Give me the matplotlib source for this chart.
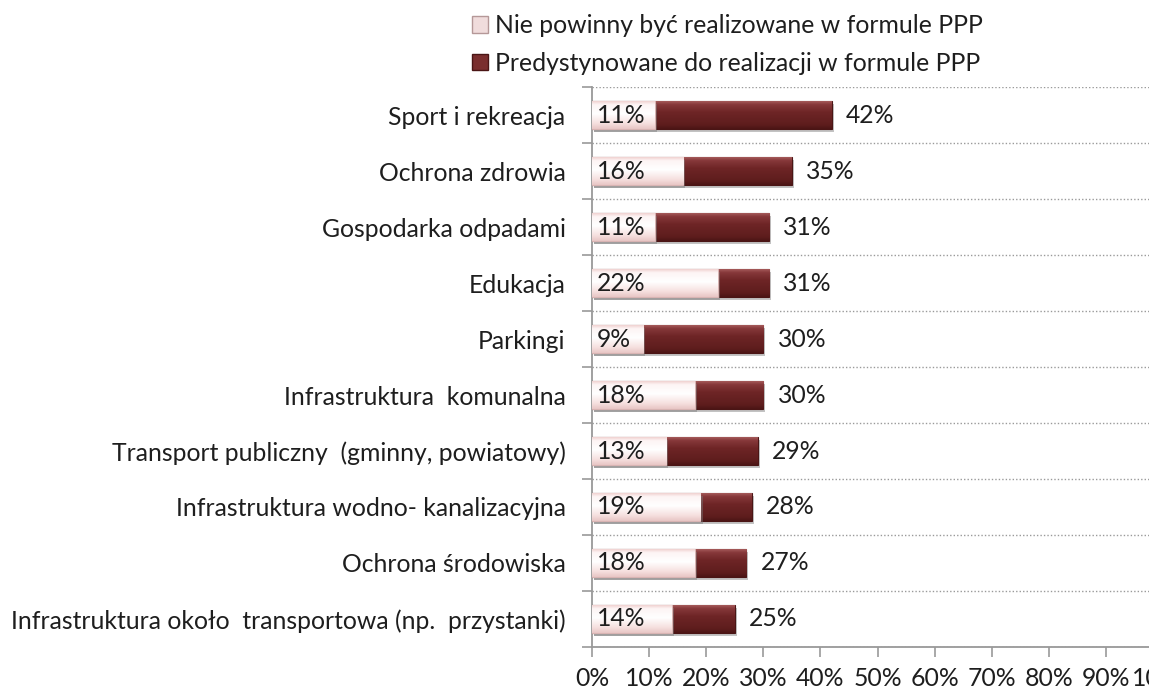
import matplotlib
matplotlib.use("Agg")
import numpy as np
import matplotlib.pyplot as plt
import matplotlib.patheffects as pe
from matplotlib.ticker import FixedLocator, PercentFormatter
from matplotlib.patches import Rectangle
from matplotlib.colors import to_rgb

plt.rcParams['font.family'] = ['Lato', 'DejaVu Sans']

categories = ["Sport i rekreacja", "Ochrona zdrowia", "Gospodarka odpadami", "Edukacja",
              "Parkingi", "Infrastruktura  komunalna",
              "Transport publiczny  (gminny, powiatowy)",
              "Infrastruktura wodno- kanalizacyjna", "Ochrona środowiska",
              "Infrastruktura około  transportowa (np.  przystanki)"]
nie_powinny = [11, 16, 11, 22, 9, 18, 13, 19, 18, 14]
predystynowane = [42, 35, 31, 31, 30, 30, 29, 28, 27, 25]
legend_labels = ["Nie powinny być realizowane w formule PPP",
                 "Predystynowane do realizacji w formule PPP"]
xticks = [0, 10, 20, 30, 40, 50, 60, 70, 80, 90, 100]

DARK = "#6B2424"
LIGHT = "#F7E4E3"
TXT = "#1e1e1e"
FS = 17.8

W, H = 1149, 691
fig = plt.figure(figsize=(W / 100, H / 100), dpi=100)
ax = fig.add_axes([592 / W, 1 - 647 / H, 571 / W, (647 - 87) / H])

y = list(range(len(categories)))
shadow = [pe.SimplePatchShadow(offset=(1.5, -2.5), shadow_rgbFace="#7a7a7a", alpha=0.45), pe.Normal()]
bd = ax.barh(y, predystynowane, height=0.5, color=DARK, edgecolor="#4a1515", linewidth=0.8, zorder=3)
bl = ax.barh(y, nie_powinny, height=0.5, color=LIGHT, edgecolor="#d8b4b3", linewidth=0.8, zorder=4)
for b in list(bd) + list(bl):
    b.set_path_effects(shadow)


def grad(stops, n=64):
    t = np.linspace(0, 1, n)
    pos = [s[0] for s in stops]
    cols = np.array([to_rgb(s[1]) for s in stops])
    arr = np.stack([np.interp(t, pos, cols[:, k]) for k in range(3)], axis=-1)
    return arr[:, None, :]


dark_grad = grad([(0, "#a45a5a"), (0.12, "#86383a"), (0.4, "#6e2526"), (0.85, "#5e1d1d"), (1, "#4c1515")])
light_grad = grad([(0, "#f0d2d1"), (0.12, "#fdf4f4"), (0.45, "#ffffff"), (0.8, "#f6e0df"), (1, "#e8c6c5")])
for bars, g, z in ((bd, dark_grad, 3.5), (bl, light_grad, 4.5)):
    for p in bars:
        x0, yb = p.get_x(), p.get_y()
        im = ax.imshow(g, extent=(x0, x0 + p.get_width(), yb + p.get_height(), yb),
                       aspect="auto", zorder=z, interpolation="bilinear")
        im.set_clip_path(p)

for i, (a, d) in enumerate(zip(nie_powinny, predystynowane)):
    ax.text(0.9, i, f"{a}%", va="center", ha="left", fontsize=FS, color=TXT, zorder=6)
    ax.text(d + 2.5, i, f"{d}%", va="center", ha="left", fontsize=FS, color=TXT, zorder=6)

ax.set_xlim(0, 100)
ax.set_ylim(len(categories) - 0.5, -0.5)
ax.xaxis.set_major_locator(FixedLocator(xticks))
ax.xaxis.set_major_formatter(PercentFormatter(decimals=0))
ax.set_yticks(y)
ax.set_yticklabels(categories)
ax.yaxis.set_minor_locator(FixedLocator([i - 0.5 for i in range(len(categories) + 1)]))
ax.tick_params(axis="y", which="major", length=0, pad=19, labelsize=FS, labelcolor=TXT)
ax.tick_params(axis="y", which="minor", length=7, color="#999999", width=1.2)
ax.tick_params(axis="x", which="major", length=7, color="#999999", width=1.2, pad=7.5,
               labelsize=FS, labelcolor=TXT)
ax.grid(axis="y", which="minor", linestyle=(0, (1, 1.5)), color="#9a9a9a", linewidth=1)
ax.set_axisbelow(True)
for s in ["top", "right"]:
    ax.spines[s].set_visible(False)
for s in ["left", "bottom"]:
    ax.spines[s].set_color("#999999")
    ax.spines[s].set_linewidth(1.3)

handles = [Rectangle((0, 0), 1, 1, facecolor="#f0dcdc", edgecolor="#b59898"),
           Rectangle((0, 0), 1, 1, facecolor="#7a2e2e", edgecolor="#4a1515")]
fig.legend(handles, legend_labels, loc="upper left", bbox_to_anchor=(472 / W, 1 - 14 / H),
           frameon=False, fontsize=FS, handlelength=0.65, handleheight=0.65, handletextpad=0.3,
           labelspacing=0.6, borderaxespad=0, borderpad=0, labelcolor=TXT)

fig.savefig("out.png", dpi=100)
